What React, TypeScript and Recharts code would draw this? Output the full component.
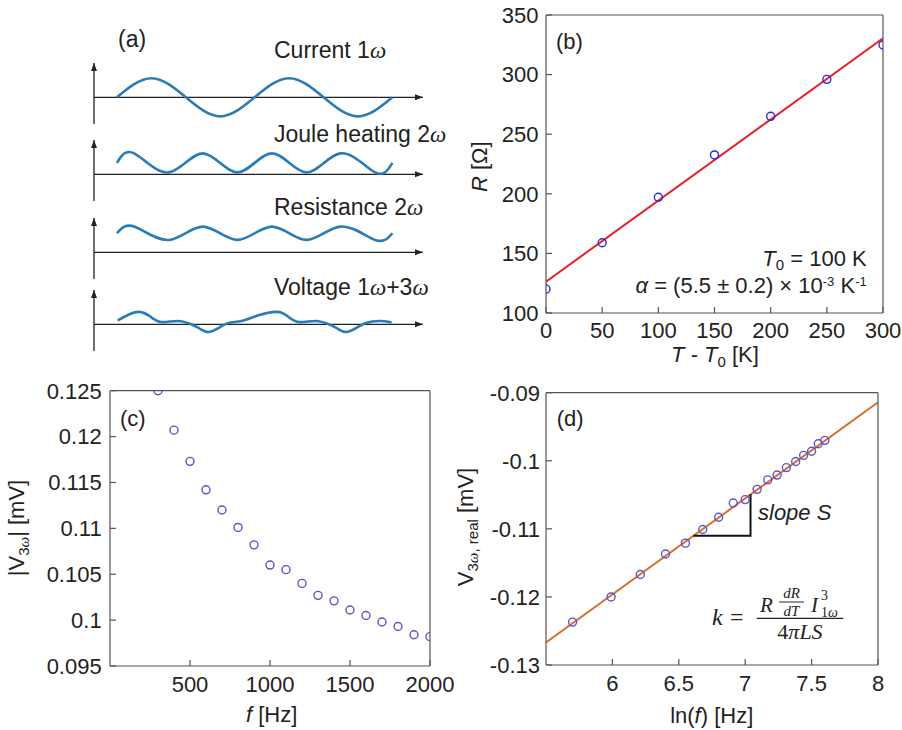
import React from "react";
import { ComposedChart, LineChart, Line, Scatter, XAxis, YAxis, ReferenceLine } from "recharts";

// (a) schematic waveforms: phase in degrees of the 1ω current, amplitude in arbitrary units
const currentPhase = [0, 90, 180, 270, 360, 450, 540, 630, 720];
const currentAmp = [0, 1, 0, -1, 0, 1, 0, -1, 0];
const heatPhase = [0, 45, 135, 225, 315, 405, 495, 585, 675, 720];
const heatAmp = [0.6, 1.1, 0.1, 1.1, 0.1, 1.1, 0.1, 1.1, 0.1, 0.6];
const resAmp = [1.0, 1.35, 0.65, 1.35, 0.65, 1.35, 0.65, 1.35, 0.65, 1.0];
const voltPhase = [2, 30, 58, 86, 115, 159, 194, 216, 238, 265, 291, 326, 370, 418, 446, 475, 519, 554, 576, 598, 625, 651, 686, 718];
const voltAmp = [0.2, 0.5, 0.65, 0.42, 0.12, 0.175, 0, -0.22, -0.4, -0.2, 0.07, 0.175, 0.47, 0.65, 0.42, 0.12, 0.175, 0, -0.22, -0.4, -0.2, 0.07, 0.175, 0.1];

// (b) resistance vs temperature
const tempDiff = [0, 50, 100, 150, 200, 250, 300];
const resistance = [120, 158.9, 197.1, 232.6, 265, 296, 324.8];
const fitBx = [0, 300];
const fitBy = [126.3, 330.4];
const bTicksX = [0, 50, 100, 150, 200, 250, 300];
const bTicksY = [100, 150, 200, 250, 300, 350];

// (c) |V3ω| vs frequency
const freq = [300, 400, 500, 600, 700, 800, 900, 1000, 1100, 1200, 1300, 1400, 1500, 1600, 1700, 1800, 1900, 2000];
const v3Abs = [0.125, 0.1207, 0.1173, 0.1142, 0.112, 0.1101, 0.1082, 0.106, 0.1055, 0.104, 0.1027, 0.1021, 0.1011, 0.1005, 0.0998, 0.0993, 0.0984, 0.0982];
const cTicksX = [500, 1000, 1500, 2000];
const cTicksY = [0.095, 0.1, 0.105, 0.11, 0.115, 0.12, 0.125];

// (d) in-phase V3ω vs ln(f)
const lnFreq = [5.7, 5.99, 6.21, 6.4, 6.55, 6.68, 6.8, 6.91, 7.0, 7.09, 7.17, 7.24, 7.31, 7.38, 7.44, 7.5, 7.55, 7.6];
const v3Real = [-0.1237, -0.12, -0.1167, -0.1137, -0.1121, -0.1101, -0.1083, -0.1062, -0.1057, -0.1042, -0.1028, -0.1021, -0.101, -0.1001, -0.0992, -0.0986, -0.0975, -0.097];
const fitDx = [5.5, 8];
const fitDy = [-0.1267, -0.0914];
const slopeX = [6.61, 7.04, 7.04];
const slopeY = [-0.111, -0.111, -0.1049];
const dTicksX = [6, 6.5, 7, 7.5, 8];
const dTicksY = [-0.13, -0.12, -0.11, -0.1, -0.09];

const zip = (xs: number[], ys: number[]) => xs.map((x, i) => ({ x, y: ys[i] }));
const wave = (ts: number[], vs: number[]) => ts.map((t, i) => ({ t, v: vs[i] }));

const SANS = "'Liberation Sans', Arial, sans-serif";
const SERIF = "'Liberation Serif', 'Times New Roman', serif";
const INK = "#222";
const frame = { stroke: "#555", strokeWidth: 1.2 };
const tickStyle = { fontSize: 22, fill: INK, fontFamily: SANS };

const ring = (color: string) => (p: any) => (
  <circle cx={p.cx} cy={p.cy} r={4} fill="none" stroke={color} strokeWidth={1.4} />
);

// plot box is given by margin; axes take 1px each (zero-size axes are not drawn)
function Panel({ left, top, width, height, margin, xDomain, yDomain, xTicks, yTicks, xGap, yGap, children }: any) {
  const m = { top: margin.top - 1, right: margin.right - 1, bottom: margin.bottom - 1, left: margin.left - 1 };
  return (
    <div style={{ position: "absolute", left, top }}>
      <ComposedChart width={width} height={height} margin={m}>
        <XAxis type="number" dataKey="x" domain={xDomain} ticks={xTicks} allowDataOverflow interval={0}
          height={1} tickSize={-6} tickMargin={xGap} axisLine={frame} tickLine={frame} tick={tickStyle} />
        <XAxis xAxisId="top" orientation="top" type="number" domain={xDomain} ticks={xTicks} allowDataOverflow
          interval={0} height={1} tickSize={-6} tick={false} axisLine={frame} tickLine={frame} />
        <YAxis type="number" dataKey="y" domain={yDomain} ticks={yTicks} allowDataOverflow interval={0}
          width={1} tickSize={-6} tickMargin={yGap} axisLine={frame} tickLine={frame} tick={tickStyle} />
        <YAxis yAxisId="right" orientation="right" type="number" domain={yDomain} ticks={yTicks} allowDataOverflow
          interval={0} width={1} tickSize={-6} tick={false} axisLine={frame} tickLine={frame} />
        {children}
      </ComposedChart>
    </div>
  );
}

function Wave({ top, data }: any) {
  return (
    <div style={{ position: "absolute", left: 89, top: top - 5 }}>
      <LineChart width={339} height={71} margin={{ top: 5, right: 5, bottom: 5, left: 5 }} data={data}>
        <XAxis type="number" dataKey="t" domain={[-60, 800]} hide allowDataOverflow />
        <YAxis type="number" domain={[-1.4, 1.8]} hide allowDataOverflow />
        <ReferenceLine segment={[{ x: -60, y: -1.4 }, { x: -60, y: 1.8 }]} stroke={INK} strokeWidth={1.3}
          markerEnd="url(#arrowHead)" ifOverflow="visible" />
        <ReferenceLine segment={[{ x: -60, y: 0 }, { x: 800, y: 0 }]} stroke={INK} strokeWidth={1.3}
          markerEnd="url(#arrowHead)" ifOverflow="visible" />
        <Line dataKey="v" type="natural" stroke="#2b7bb5" strokeWidth={2.6} dot={false} activeDot={false}
          isAnimationActive={false} />
      </LineChart>
    </div>
  );
}

const it = { fontStyle: "italic" };
const om = { fontStyle: "italic", fontFamily: SERIF };

export default function App() {
  return (
    <div style={{ position: "absolute", left: 0, top: 0, width: 902, height: 730, background: "#fff", overflow: "hidden" }}>
      <svg width={0} height={0} style={{ position: "absolute" }}>
        <defs>
          <marker id="arrowHead" markerUnits="userSpaceOnUse" markerWidth={8} markerHeight={8} viewBox="0 0 8 8"
            refX={8} refY={4} orient="auto">
            <path d="M0,1 L8,4 L0,7 z" fill={INK} />
          </marker>
        </defs>
      </svg>

      {/* (a) */}
      <Wave top={62.5} data={wave(currentPhase, currentAmp)} />
      <Wave top={140.1} data={wave(heatPhase, heatAmp)} />
      <Wave top={218.1} data={wave(heatPhase, resAmp)} />
      <Wave top={289.8} data={wave(voltPhase, voltAmp)} />

      {/* (b) */}
      <Panel left={450} top={0} width={452} height={370} margin={{ top: 15, right: 19, bottom: 57, left: 96 }}
        xDomain={[0, 300]} yDomain={[100, 350]} xTicks={bTicksX} yTicks={bTicksY} xGap={15} yGap={13.5}>
        <Line data={zip(fitBx, fitBy)} dataKey="y" type="linear" stroke="#e8202a" strokeWidth={2} dot={false}
          activeDot={false} isAnimationActive={false} />
        <Scatter data={zip(tempDiff, resistance)} shape={ring("#2a2ae0")} isAnimationActive={false} />
      </Panel>

      {/* (c) */}
      <Panel left={0} top={370} width={460} height={360} margin={{ top: 20.7, right: 30, bottom: 64, left: 110 }}
        xDomain={[0, 2000]} yDomain={[0.095, 0.125]} xTicks={cTicksX} yTicks={cTicksY} xGap={16.7} yGap={14.3}>
        <Scatter data={zip(freq, v3Abs)} shape={ring("#5b55c9")} isAnimationActive={false} />
      </Panel>

      {/* (d) */}
      <Panel left={450} top={370} width={452} height={360} margin={{ top: 22.7, right: 24, bottom: 65, left: 96 }}
        xDomain={[5.5, 8]} yDomain={[-0.13, -0.09]} xTicks={dTicksX} yTicks={dTicksY} xGap={16} yGap={12}>
        <Scatter data={zip(lnFreq, v3Real)} shape={ring("#5a55d0")} isAnimationActive={false} />
        <Line data={zip(fitDx, fitDy)} dataKey="y" type="linear" stroke="#d9702a" strokeWidth={2} dot={false}
          activeDot={false} isAnimationActive={false} />
        <Line data={zip(slopeX, slopeY)} dataKey="y" type="linear" stroke="#111" strokeWidth={2} dot={false}
          activeDot={false} isAnimationActive={false} />
      </Panel>

      {/* texts */}
      <svg width={902} height={730} style={{ position: "absolute", left: 0, top: 0, pointerEvents: "none" }}
        fontFamily={SANS} fill={INK}>
        <g fontSize={23}>
          <text x={118} y={47}>(a)</text>
          <text x={274} y={58}>Current 1<tspan style={om}>ω</tspan></text>
          <text x={274} y={141.5}>Joule heating 2<tspan style={om}>ω</tspan></text>
          <text x={274} y={214.8}>Resistance 2<tspan style={om}>ω</tspan></text>
          <text x={274} y={294.8}>Voltage 1<tspan style={om}>ω</tspan>+3<tspan style={om}>ω</tspan></text>
        </g>
        <g fontSize={22}>
          <text x={556} y={48.7}>(b)</text>
          <text x={120} y={425.5}>(c)</text>
          <text x={556.7} y={425.5}>(d)</text>
          <text transform="rotate(-90)" x={-166.7} y={487} textAnchor="middle">
            <tspan style={it}>R</tspan> [Ω]
          </text>
          <text x={715} y={362} textAnchor="middle">
            <tspan style={it}>T</tspan> - <tspan style={it}>T</tspan><tspan dy={5} fontSize={15}>0</tspan><tspan dy={-5}> [K]</tspan>
          </text>
          <text x={866.7} y={266} textAnchor="end">
            <tspan style={it}>T</tspan><tspan dy={4} fontSize={15}>0</tspan><tspan dy={-4}> = 100 K</tspan>
          </text>
          <text x={866.7} y={293} textAnchor="end">
            <tspan style={it}>α</tspan> = (5.5 ± 0.2) × 10<tspan dy={-7} fontSize={13}>-3</tspan><tspan dy={7}> K</tspan><tspan dy={-7} fontSize={13}>-1</tspan>
          </text>
          <text transform="rotate(-90)" x={-528} y={24} textAnchor="middle">
            |V<tspan dy={5} fontSize={15}>3</tspan><tspan fontSize={15} style={om}>ω</tspan><tspan dy={-5}>| [mV]</tspan>
          </text>
          <text x={271.7} y={722.4} textAnchor="middle"><tspan style={it}>f</tspan> [Hz]</text>
          <text transform="rotate(-90)" x={-527} y={473} textAnchor="middle">
            V<tspan dy={5} fontSize={15}>3</tspan><tspan fontSize={15} style={om}>ω</tspan><tspan fontSize={15}>, real</tspan><tspan dy={-5}> [mV]</tspan>
          </text>
          <text x={711.7} y={722.7} textAnchor="middle">ln(<tspan style={it}>f</tspan>) [Hz]</text>
          <text x={758} y={520} style={it}>slope S</text>
        </g>
        <g fontFamily={SERIF} fontStyle="italic">
          <text x={712} y={625} fontSize={24}>k</text>
          <text x={730} y={625} fontSize={24} fontStyle="normal">=</text>
          <text x={760} y={612} fontSize={21}>R</text>
          <text x={791.5} y={598} fontSize={15} textAnchor="middle">dR</text>
          <line x1={779} x2={804} y1={602} y2={602} stroke={INK} strokeWidth={1} />
          <text x={791.5} y={616} fontSize={15} textAnchor="middle">dT</text>
          <text x={811} y={612} fontSize={21}>I</text>
          <text x={821} y={600} fontSize={14} fontStyle="normal">3</text>
          <text x={821} y={617} fontSize={14}><tspan fontStyle="normal">1</tspan>ω</text>
          <line x1={756.7} x2={843.3} y1={618.3} y2={618.3} stroke={INK} strokeWidth={1.2} />
          <text x={800} y={638.5} fontSize={22} textAnchor="middle"><tspan fontStyle="normal">4</tspan>πLS</text>
        </g>
      </svg>
    </div>
  );
}
